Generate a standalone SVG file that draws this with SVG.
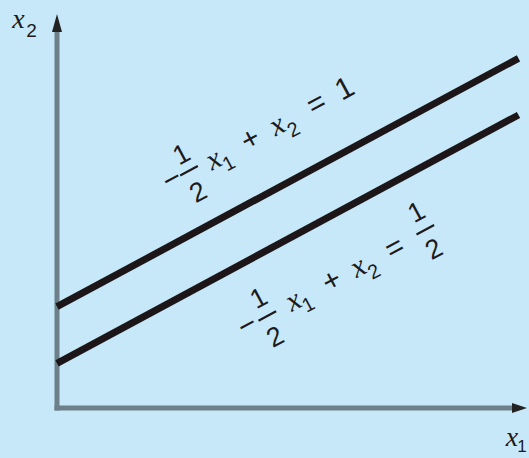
<svg xmlns="http://www.w3.org/2000/svg" width="529" height="458" viewBox="0 0 529 458">
<style>
.n{font-family:"Liberation Sans",Arial,sans-serif;fill:#1e1a1c;text-anchor:middle}
.v{font-family:"Liberation Serif","Times New Roman",serif;font-style:italic;fill:#1e1a1c;text-anchor:middle}
.bar{stroke:#1e1a1c;stroke-width:2.2}
.ax{stroke:#6d8089;stroke-width:5;fill:none}
.ln{stroke:#1c1618;stroke-width:7;fill:none}
</style>
<rect width="529" height="458" fill="#c7e8f9"/>
<g id="axes">
<line class="ax" x1="57" y1="30" x2="57" y2="410.5"/>
<line class="ax" x1="54.5" y1="408" x2="514" y2="408"/>
<polygon points="57,14 62,32 52,32" fill="#222"/>
<polygon points="527,408 512,403 512,413" fill="#222"/>
<text class="v" x="18.5" y="28" font-size="28">x</text>
<text class="n" x="31.5" y="37" font-size="19">2</text>
<text class="v" x="512" y="446" font-size="28">x</text>
<text class="n" x="522" y="452" font-size="17">1</text>
</g>
<g id="lines">
<line class="ln" x1="57" y1="306.7" x2="518.5" y2="58.3"/>
<line class="ln" x1="57" y1="363.3" x2="518.5" y2="115"/>
</g>
<g id="label-upper" transform="translate(189,170.7) rotate(-28.3)">
<text class="n" x="-19" y="9" font-size="30">−</text>
<text class="n" x="1" y="-9" font-size="27">1</text>
<line class="bar" x1="-10" y1="0" x2="10" y2="0"/>
<text class="n" x="-2" y="32" font-size="27">2</text>
<text class="v" x="27" y="11" font-size="30">x</text>
<text class="n" x="38.5" y="19" font-size="20">1</text>
<text class="n" x="69" y="11" font-size="30">+</text>
<text class="v" x="99" y="11" font-size="30">x</text>
<text class="n" x="111.5" y="20" font-size="20">2</text>
<text class="n" x="144" y="11" font-size="30">=</text>
<text class="n" x="176" y="11" font-size="30">1</text>
</g>
<g id="label-lower" transform="translate(267.3,316) rotate(-28.3)">
<text class="n" x="-22" y="8" font-size="30">−</text>
<text class="n" x="1" y="-11" font-size="27">1</text>
<line class="bar" x1="-10" y1="0" x2="10" y2="0"/>
<text class="n" x="-3" y="31" font-size="27">2</text>
<text class="v" x="30" y="8" font-size="30">x</text>
<text class="n" x="41.5" y="16" font-size="20">1</text>
<text class="n" x="73.5" y="9" font-size="30">+</text>
<text class="v" x="103" y="9" font-size="30">x</text>
<text class="n" x="115" y="18" font-size="20">2</text>
<text class="n" x="144.5" y="10" font-size="30">=</text>
<text class="n" x="180.5" y="-12" font-size="27">1</text>
<line class="bar" x1="170" y1="-1" x2="190" y2="-1"/>
<text class="n" x="178.5" y="29" font-size="27">2</text>
</g>
</svg>
